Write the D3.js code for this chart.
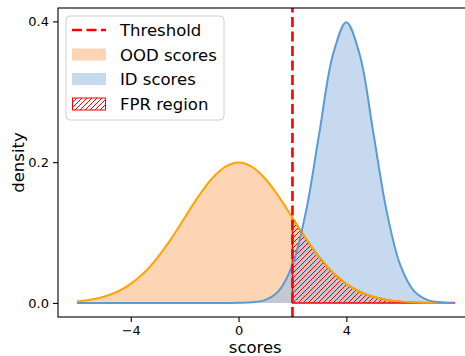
<!DOCTYPE html>
<html>
<head>
<meta charset="utf-8">
<script src="https://cdn.jsdelivr.net/npm/d3@7"></script>
<style>
  body { margin: 0; background: #fff; }
  text { font-family: "DejaVu Sans", sans-serif; fill: #000; }
</style>
</head>
<body>
<svg id="chart" width="465" height="356"></svg>
<script>
// score grid (x) and the two densities
let scores = [-6, -5.5, -5, -4.5, -4, -3.5, -3, -2.5, -2, -1.5, -1, -0.5, 0,
    0.5, 1, 1.5, 2, 2.5, 3, 3.5, 4, 4.5, 5, 5.5, 6, 6.5, 7, 7.5, 8];

let oodDensity = [0.0022, 0.0046, 0.0088, 0.0159, 0.0270, 0.0431, 0.0648, 0.0913, 0.1210,
    0.1506, 0.1760, 0.1933, 0.1995, 0.1933, 0.1760, 0.1506, 0.1210, 0.0913, 0.0648,
    0.0431, 0.0270, 0.0159, 0.0088, 0.0046, 0.0022, 0.0010, 0.0004, 0.0002, 0.0001];

let idDensity = [0, 0, 0, 0, 0, 0, 0, 0, 0, 0, 0, 0, 0.0001,
    0.0009, 0.0044, 0.0175, 0.0540, 0.1295, 0.2420, 0.3521, 0.3989, 0.3521, 0.2420,
    0.1295, 0.0540, 0.0175, 0.0044, 0.0009, 0.0001];

let threshold = 2;
let xTicks = [-4, 0, 4];
let yTicks = [0.0, 0.2, 0.4];
let legendLabels = ["Threshold", "OOD scores", "ID scores", "FPR region"];

let margin = {top: 8, left: 58, bottom: 39},
    width = 473 - margin.left,
    height = 356 - margin.top - margin.bottom;

let svg = d3.select("#chart");

// hatch for the FPR area
let defs = svg.append("defs");
let pat = defs.append("pattern")
    .attr("id", "hatch")
    .attr("patternUnits", "userSpaceOnUse")
    .attr("width", 5)
    .attr("height", 5);
pat.append("path")
    .attr("d", "M-1,1 l2,-2 M0,5 l5,-5 M4,6 l2,-2")
    .attr("stroke", "red")
    .attr("stroke-width", 1);

let chart = svg.append("g")
    .attr("transform", "translate(" + margin.left + "," + margin.top + ")");

let xScale = d3.scaleLinear().domain([-6.7, 8.7]).range([0, width]);
let yScale = d3.scaleLinear().domain([-0.02, 0.419]).range([height, 0]);

let ood = scores.map((s, i) => ({x: s, y: oodDensity[i]}));
let id = scores.map((s, i) => ({x: s, y: idDensity[i]}));
let fpr = ood.filter(d => d.x >= threshold);

let area = d3.area()
    .x(d => xScale(d.x))
    .y0(yScale(0))
    .y1(d => yScale(d.y))
    .curve(d3.curveCatmullRom);

let line = d3.line()
    .x(d => xScale(d.x))
    .y(d => yScale(d.y))
    .curve(d3.curveCatmullRom);

chart.append("path").datum(ood).attr("d", area).attr("fill", "#fdd5b5");
chart.append("path").datum(id).attr("d", area)
    .attr("fill", "rgb(160,192,227)").attr("fill-opacity", 0.6);

// FPR region: under OOD curve right of the threshold
let fprArea = d3.area()
    .x(d => xScale(d.x))
    .y0(yScale(0))
    .y1(d => yScale(d.y))
    .curve(d3.curveCatmullRom);
chart.append("path").datum(fpr)
    .attr("d", d => fprArea(d) )
    .attr("fill", "url(#hatch)")
    .attr("stroke", "red")
    .attr("stroke-width", 1.5);

chart.append("path").datum(ood).attr("d", line)
    .attr("fill", "none").attr("stroke", "orange").attr("stroke-width", 2);
chart.append("path").datum(id).attr("d", line)
    .attr("fill", "none").attr("stroke", "#5a9bd4").attr("stroke-width", 2);

// threshold line
chart.append("line")
    .attr("x1", xScale(threshold)).attr("x2", xScale(threshold))
    .attr("y1", height).attr("y2", 0)
    .attr("stroke", "red")
    .attr("stroke-width", 2.6)
    .attr("stroke-dasharray", "10,4.5");

// axes
let xAxis = chart.append("g")
    .attr("transform", "translate(0," + height + ")")
    .call(d3.axisBottom(xScale).tickValues(xTicks).tickSize(5).tickPadding(4));
let yAxis = chart.append("g")
    .call(d3.axisLeft(yScale).tickValues(yTicks).tickFormat(d3.format(".1f")).tickSize(5).tickPadding(4));
[xAxis, yAxis].forEach(a => {
    a.select(".domain").remove();
    a.selectAll("text").style("font-family", "DejaVu Sans").style("font-size", "13px").attr("fill", "#000");
    a.selectAll("line").attr("stroke", "#000").attr("stroke-width", 1.1);
});

chart.append("rect")
    .attr("x", 0).attr("y", 0)
    .attr("width", width).attr("height", height)
    .attr("fill", "none").attr("stroke", "#000").attr("stroke-width", 1.1);

svg.append("text")
    .attr("x", xScale(0.62) + margin.left)
    .attr("y", 353)
    .attr("text-anchor", "middle")
    .style("font-size", "16.5px")
    .text("scores");

svg.append("text")
    .attr("transform", "translate(24," + (margin.top + height / 2) + ") rotate(-90)")
    .attr("text-anchor", "middle")
    .style("font-size", "16.5px")
    .text("density");

// legend
let legend = svg.append("g");
legend.append("rect")
    .attr("x", 66).attr("y", 16).attr("width", 158).attr("height", 104)
    .attr("rx", 4)
    .attr("fill", "#fff").attr("fill-opacity", 0.8)
    .attr("stroke", "#d0d0d0").attr("stroke-width", 1);

let rowY = [30, 54.5, 79, 104];
legend.append("line")
    .attr("x1", 72).attr("x2", 106)
    .attr("y1", rowY[0]).attr("y2", rowY[0])
    .attr("stroke", "red").attr("stroke-width", 2.6)
    .attr("stroke-dasharray", "10,4.5");
legend.append("rect")
    .attr("x", 72).attr("y", rowY[1] - 6).attr("width", 34).attr("height", 12)
    .attr("fill", "#fdd5b5");
legend.append("rect")
    .attr("x", 72).attr("y", rowY[2] - 6).attr("width", 34).attr("height", 12)
    .attr("fill", "rgb(160,192,227)").attr("fill-opacity", 0.6);
legend.append("rect")
    .attr("x", 72.5).attr("y", rowY[3] - 6).attr("width", 33).attr("height", 12)
    .attr("fill", "url(#hatch)").attr("stroke", "red").attr("stroke-width", 1);

legend.selectAll("text.lab")
    .data(legendLabels)
    .join("text")
    .attr("class", "lab")
    .attr("x", 120)
    .attr("y", (d, i) => rowY[i] + 6)
    .style("font-size", "16.5px")
    .text(d => d);
</script>
</body>
</html>
